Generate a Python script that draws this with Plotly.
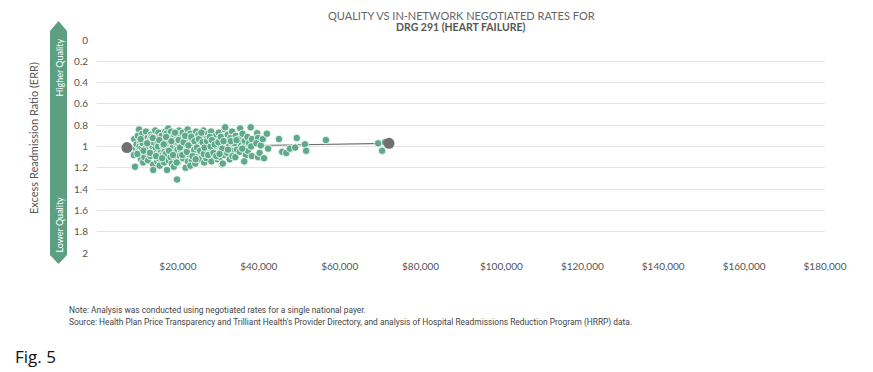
import plotly.graph_objects as go

# ---------------- data ----------------
# negotiated rate (USD thousands) and excess readmission ratio per hospital
rates_k = [
    9.2, 9.6, 9.1, 9.4, 9.8,
    10.4, 10.1, 10.7, 10.3, 10.9, 10.5,
    11.2, 11.6, 11.0, 11.8, 11.4, 11.3, 11.7,
    12.1, 12.5, 12.8, 12.3, 12.6, 12.0, 12.9,
    13.3, 13.0, 13.6, 13.2, 13.9, 13.5, 13.7,
    14.4, 14.1, 14.7, 14.2, 14.9, 13.9, 14.5, 14.0,
    15.2, 15.6, 15.0, 15.8, 15.3, 15.5, 15.1,
    16.0, 16.4, 16.8, 16.2, 16.6, 16.9, 16.3, 16.7,
    17.6, 17.2, 17.9, 17.4, 17.0, 17.7, 17.3, 17.5,
    18.3, 18.0, 18.6, 18.9, 18.2, 18.5, 18.7,
    19.1, 19.5, 19.8, 19.2, 19.6, 19.0, 19.4, 19.9,
    20.3, 20.6, 20.1, 20.8, 20.4, 20.0, 19.8, 20.7,
    21.2, 21.5, 21.0, 21.7, 21.3, 21.9, 21.6,
    22.4, 22.1, 22.7, 22.3, 22.9, 22.5, 22.0,
    23.0, 23.5, 23.2, 23.8, 23.4, 23.1, 23.7,
    24.5, 24.2, 24.8, 24.0, 24.6, 24.3, 24.9,
    25.1, 25.6, 25.3, 25.9, 25.4, 25.0,
    26.3, 26.0, 26.7, 26.2, 26.8, 26.5,
    27.4, 27.1, 27.8, 27.3, 27.0, 27.6,
    28.2, 28.6, 28.0, 28.5, 28.9, 28.3,
    29.3, 29.0, 29.6, 29.2, 29.8,
    30.1, 30.5, 30.2, 30.7, 30.4, 30.9,
    31.6, 31.2, 31.8, 31.0, 31.4, 31.1,
    31.7, 32.3, 32.0, 32.6, 32.2, 32.8,
    33.4, 33.0, 33.7, 33.2, 33.5,
    34.3, 34.0, 34.6, 34.2,
    35.4, 35.1, 35.7, 35.3,
    36.0, 36.5, 36.2, 36.8, 36.4,
    37.2, 37.6, 37.3,
    38.0, 38.3, 38.1, 38.3,
    39.6, 39.8, 39.4, 39.8, 40.5, 40.2,
    41.0, 41.3, 42.0, 42.3,
    45.0, 45.8, 46.8, 47.7, 49.0, 49.4, 51.4, 51.7, 56.6, 69.5, 70.5, 71.2,
]
err = [
    0.93, 1.02, 1.08, 1.19, 0.98,
    0.84, 0.90, 0.96, 1.04, 1.12, 1.00,
    0.88, 0.94, 1.01, 1.07, 1.15, 0.97, 1.10,
    0.86, 0.92, 0.99, 1.05, 1.13, 1.02, 0.95,
    0.89, 0.95, 1.03, 1.09, 1.17, 0.91, 1.00,
    0.85, 0.93, 0.98, 1.06, 1.14, 1.22, 1.01, 0.96,
    0.87, 0.91, 0.97, 1.04, 1.11, 1.18, 1.00,
    0.90, 0.95, 1.02, 1.08, 1.15, 0.86, 0.99, 1.05,
    0.83, 0.88, 0.94, 1.00, 1.07, 1.13, 1.22, 0.97,
    0.86, 0.92, 0.98, 1.03, 1.10, 1.16, 1.01,
    0.89, 0.94, 1.00, 1.06, 1.12, 1.19, 0.96, 1.03,
    0.85, 0.91, 0.97, 1.04, 1.09, 1.15, 1.31, 0.99,
    0.87, 0.93, 0.99, 1.05, 1.11, 1.20, 1.02,
    0.84, 0.90, 0.96, 1.02, 1.08, 1.14, 0.98,
    0.88, 0.94, 1.00, 1.06, 1.13, 1.18, 0.92,
    0.86, 0.92, 0.97, 1.03, 1.10, 1.16, 1.00,
    0.89, 0.95, 1.01, 1.07, 1.12, 0.97,
    0.85, 0.91, 0.98, 1.04, 1.09, 1.15,
    0.88, 0.93, 0.99, 1.05, 1.11, 1.02,
    0.86, 0.92, 0.97, 1.03, 1.08, 1.14,
    0.90, 0.95, 1.01, 1.06, 1.12,
    0.87, 0.93, 0.99, 1.04, 1.10, 1.17,
    0.84, 0.91, 0.97, 1.02, 1.08, 1.16,
    0.82, 0.89, 0.95, 1.00, 1.06, 1.12,
    0.86, 0.92, 0.98, 1.04, 1.09,
    0.90, 0.97, 1.03, 1.10,
    0.83, 0.93, 0.99, 1.05,
    0.88, 0.95, 1.01, 1.08, 1.14,
    0.91, 0.97, 1.04,
    0.82, 0.93, 1.00, 1.09,
    0.875, 0.92, 0.97, 1.10, 0.99, 1.06,
    0.93, 1.11, 0.88, 1.02,
    0.93, 1.05, 1.06, 1.02, 1.01, 0.92, 0.98, 1.04, 0.94, 0.97, 1.04, 0.96,
]
# additional hospitals inside the dense cluster
extra_rates_k = [
    10.0, 10.8, 11.5, 12.4, 13.1,
    13.8, 14.6, 15.4, 16.1, 16.5,
    17.1, 17.8, 18.4, 18.8, 19.3,
    19.7, 20.2, 20.5, 21.1, 21.4,
    21.8, 22.2, 22.6, 23.3, 23.6,
    24.1, 24.4, 24.7, 25.2, 25.5,
    25.8, 26.1, 26.4, 26.6, 27.2,
    27.5, 27.9, 28.1, 28.4, 28.8,
    29.1, 29.5, 30.0, 30.3, 30.6,
    31.3, 32.4, 33.1, 34.5, 35.9,
]
extra_err = [
    1.07, 0.93, 1.04, 0.97, 1.06,
    0.92, 1.09, 0.94, 1.11, 0.98,
    0.91, 1.04, 0.95, 1.08, 0.87,
    1.15, 0.94, 1.01, 1.08, 0.96,
    0.90, 1.05, 0.99, 0.91, 1.09,
    0.95, 1.12, 1.01, 0.93, 1.04,
    0.87, 0.96, 1.07, 1.01, 0.95,
    1.08, 0.91, 1.00, 0.94, 1.06,
    0.98, 1.09, 0.96, 1.07, 0.91,
    0.95, 1.03, 0.95, 0.94, 1.02,
]
rates = [r * 1000 for r in rates_k + extra_rates_k]
errs = err + extra_err

# trend line end points (rate, ERR)
trend_rates = [7400, 72200]
trend_err = [1.01, 0.97]

x_tickvals = [20000, 40000, 60000, 80000, 100000, 120000, 140000, 160000, 180000]
x_ticktext = ["$20,000", "$40,000", "$60,000", "$80,000", "$100,000",
              "$120,000", "$140,000", "$160,000", "$180,000"]
y_tickvals = [0, 0.2, 0.4, 0.6, 0.8, 1, 1.2, 1.4, 1.6, 1.8, 2]
y_ticktext = ["0", "0.2", "0.4", "0.6", "0.8", "1", "1.2", "1.4", "1.6", "1.8", "2"]

title_line1 = "QUALITY VS IN-NETWORK NEGOTIATED RATES FOR"
title_line2 = "DRG 291 (HEART FAILURE)"
y_title = "Excess Readmission Ratio (ERR)"
note_text = "Note: Analysis was conducted using negotiated rates for a single national payer."
source_text = ("Source: Health Plan Price Transparency and Trilliant Health's Provider Directory, "
               "and analysis of Hospital Readmissions Reduction Program (HRRP) data.")

# ---------------- figure ----------------
GREEN = "#5ea98a"
BAND = "#5c9f83"
GREY_TXT = "#555555"
FONT = "Lato"

fig = go.Figure()

fig.add_trace(go.Scatter(
    x=trend_rates, y=trend_err, mode="lines",
    line=dict(color="#6e6e6e", width=1.2),
    hoverinfo="skip", showlegend=False,
))
fig.add_trace(go.Scatter(
    x=rates, y=errs, mode="markers",
    marker=dict(color=GREEN, size=7.5, line=dict(color="white", width=0.8)),
    showlegend=False,
))
fig.add_trace(go.Scatter(
    x=trend_rates, y=trend_err, mode="markers",
    marker=dict(color="#707070", size=11),
    showlegend=False,
))

# page body adds an 8px margin, so the figure is 8px smaller and all
# reference pixel positions are shifted by -8
OFF = 8
W, H = 873 - OFF, 372 - OFF
ml, mr, mt, mb = 97 - OFF, 48, 40 - OFF, 119
pw = W - ml - mr
ph = H - mt - mb


def px_x(px):
    """reference pixel x -> paper x"""
    return (px - OFF - ml) / pw


def px_y(py):
    """reference pixel y -> paper y"""
    return (H - mb - (py - OFF)) / ph


# green quality arrow band
x0, x1 = px_x(50), px_x(67)
xc = (x0 + x1) / 2
band_path = (f"M {x0},{px_y(31)} L {xc},{px_y(21)} L {x1},{px_y(31)} "
             f"L {x1},{px_y(255)} L {xc},{px_y(264)} L {x0},{px_y(255)} Z")
fig.add_shape(type="path", path=band_path, xref="paper", yref="paper",
              fillcolor=BAND, line=dict(width=0), layer="below")

annotations = [
    dict(text="Higher Quality", x=xc, y=px_y(67), xref="paper", yref="paper",
         textangle=-90, showarrow=False, xanchor="center", yanchor="middle",
         font=dict(family=FONT, size=9, color="white")),
    dict(text="Lower Quality", x=xc, y=px_y(224), xref="paper", yref="paper",
         textangle=-90, showarrow=False, xanchor="center", yanchor="middle",
         font=dict(family=FONT, size=9, color="white")),
    dict(text=y_title, x=px_x(33), y=px_y(138), xref="paper", yref="paper",
         textangle=-90, showarrow=False, xanchor="center", yanchor="middle",
         font=dict(family=FONT, size=11, color=GREY_TXT)),
    dict(text=title_line1, x=0.5, y=px_y(15), xref="paper", yref="paper",
         showarrow=False, xanchor="center", yanchor="middle",
         font=dict(family=FONT, size=11, color="#666666")),
    dict(text="<b>" + title_line2 + "</b>", x=0.5, y=px_y(26.5), xref="paper",
         yref="paper", showarrow=False, xanchor="center", yanchor="middle",
         font=dict(family=FONT, size=10.5, color="#555555")),
    dict(text=note_text, x=px_x(67), y=px_y(310), xref="paper",
         yref="paper", showarrow=False, xanchor="left", yanchor="middle",
         font=dict(family="Roboto", size=8.4, color="#444444")),
    dict(text=source_text, x=px_x(67), y=px_y(322), xref="paper",
         yref="paper", showarrow=False, xanchor="left", yanchor="middle",
         font=dict(family="Roboto", size=8.4, color="#444444")),
    dict(text="Fig. 5", x=px_x(13), y=px_y(356), xref="paper",
         yref="paper", showarrow=False, xanchor="left", yanchor="middle",
         font=dict(family="Open Sans", size=17, color="#111111")),
]

fig.update_layout(
    width=W, height=H, autosize=False,
    margin=dict(l=ml, r=mr, t=mt, b=mb, pad=0),
    paper_bgcolor="white", plot_bgcolor="white",
    font=dict(family=FONT, color=GREY_TXT, size=10),
    annotations=annotations,
    xaxis=dict(range=[0, 180000], tickvals=x_tickvals, ticktext=x_ticktext,
               showgrid=False, zeroline=False, showline=False, ticks="",
               automargin=False,
               tickfont=dict(family=FONT, size=10, color=GREY_TXT), ticklabelstandoff=6),
    yaxis=dict(range=[2, 0], tickvals=y_tickvals, ticktext=y_ticktext,
               showgrid=True, gridcolor="#e4e4e4", gridwidth=1,
               zeroline=False, showline=False, ticks="", automargin=False,
               tickfont=dict(family=FONT, size=10, color=GREY_TXT), ticklabelstandoff=8),
)

fig.write_html("out.html")
